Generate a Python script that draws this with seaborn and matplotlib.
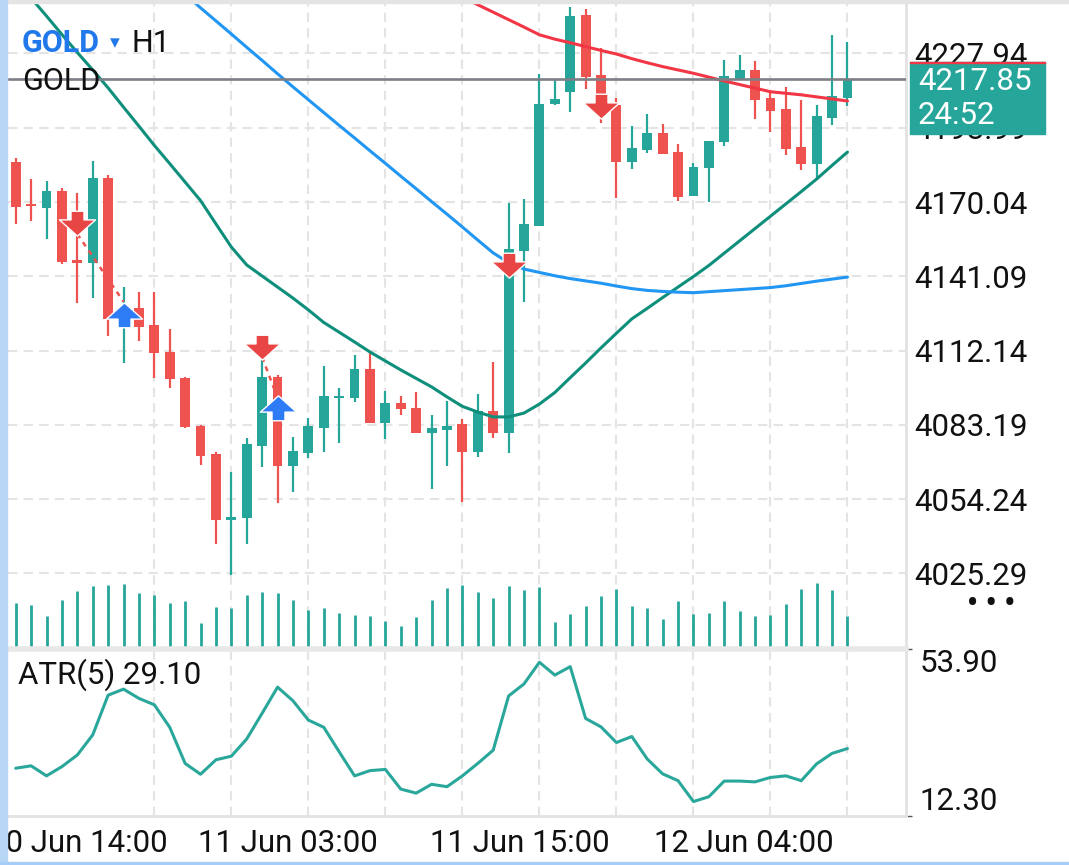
import numpy as np
import pandas as pd
import seaborn as sns
import matplotlib.pyplot as plt
from matplotlib.path import Path
from matplotlib.patches import Rectangle

# GOLD H1 candles
opens = [4185.5, 4169.1, 4167.8, 4174.3, 4147.4, 4146.4, 4179.5, 4124.5, 4128.6, 4122.1,
         4111.6, 4101.6, 4082.9, 4071.9, 4046.1, 4047.0, 4075.1, 4101.7, 4067.3, 4072.4,
         4082.1, 4093.5, 4093.8, 4104.9, 4084.1, 4091.9, 4089.7, 4079.9, 4081.3, 4083.4,
         4072.8, 4088.6, 4079.9, 4151.1, 4160.8, 4208.2, 4213.0, 4242.9, 4219.5, 4207.8,
         4185.7, 4190.3, 4197.0, 4189.5, 4172.4, 4183.2, 4193.5, 4217.8, 4221.5, 4210.6,
         4206.3, 4191.4, 4184.8, 4202.7, 4210.7]
highs = [4187.1, 4178.9, 4178.1, 4175.6, 4173.7, 4186.0, 4180.6, 4137.0, 4134.9, 4134.9,
         4120.6, 4101.9, 4083.2, 4072.8, 4065.0, 4078.0, 4108.5, 4102.6, 4078.4, 4085.8,
         4106.1, 4097.5, 4110.4, 4111.7, 4096.4, 4094.5, 4095.9, 4086.9, 4092.4, 4085.4,
         4095.2, 4107.7, 4169.5, 4171.1, 4219.9, 4217.6, 4245.9, 4245.1, 4229.9, 4210.4,
         4199.7, 4204.3, 4200.4, 4192.6, 4185.1, 4193.8, 4225.4, 4227.3, 4225.0, 4213.7,
         4214.7, 4209.8, 4207.8, 4235.1, 4232.3]
lows = [4161.4, 4162.8, 4155.5, 4145.8, 4130.8, 4132.8, 4118.0, 4107.2, 4116.0, 4101.4,
        4097.5, 4082.0, 4067.5, 4036.7, 4024.7, 4036.7, 4066.7, 4052.9, 4057.2, 4070.4,
        4072.8, 4076.3, 4092.0, 4084.1, 4077.6, 4086.9, 4079.9, 4058.1, 4067.3, 4053.3,
        4070.6, 4078.2, 4072.1, 4131.2, 4160.7, 4208.0, 4205.2, 4214.0, 4200.7, 4171.5,
        4182.8, 4189.3, 4188.7, 4170.4, 4172.4, 4170.2, 4191.9, 4217.8, 4202.4, 4197.4,
        4188.4, 4182.5, 4178.6, 4200.0, 4207.4]
closes = [4168.2, 4168.3, 4174.3, 4146.7, 4146.2, 4179.3, 4124.3, 4128.7, 4121.5, 4111.1,
          4101.0, 4082.3, 4071.1, 4046.1, 4047.3, 4075.8, 4101.7, 4067.3, 4073.0, 4082.8,
          4094.5, 4094.5, 4104.9, 4084.1, 4091.6, 4089.3, 4079.9, 4081.9, 4082.9, 4072.8,
          4088.7, 4079.9, 4151.6, 4161.5, 4208.2, 4210.2, 4242.5, 4218.9, 4212.1, 4185.7,
          4191.2, 4197.0, 4188.7, 4172.1, 4183.8, 4193.8, 4219.1, 4221.5, 4209.8, 4205.6,
          4190.7, 4184.8, 4203.6, 4211.3, 4217.85]
# tick volume, hundreds
volume = [44, 42, 31, 47, 56, 61, 62, 63, 54, 52, 44, 46, 24, 40, 39, 52, 55, 54, 47,
          37, 39, 34, 32, 31, 26, 21, 30, 47, 59, 62, 55, 49, 61, 57,
          60, 25, 33, 41, 51, 58, 41, 39, 28, 46, 33, 34, 46, 36, 31, 32, 43, 58, 64, 57, 31]
atr = [24.2, 24.8, 22.3, 24.6, 27.5, 32.5, 42.4, 43.9, 41.6, 40.0, 34.4, 25.4, 22.7, 26.3,
       27.2, 31.5, 37.9, 44.4, 41.0, 36.2, 34.4, 28.3, 22.3, 23.6, 23.9, 19.0, 18.0, 20.2,
       19.6, 22.3, 25.4, 28.7, 42.2, 45.2, 50.6, 47.4, 49.5, 36.6, 34.5, 30.6, 32.1, 26.5,
       22.8, 21.1, 15.9, 17.1, 21.0, 21.0, 20.8, 21.9, 22.3, 21.1, 25.3, 27.9, 29.1]
ma_fast = [4256.1, 4249.5, 4242.5, 4235.3, 4228.3, 4221.5, 4214.5, 4207.0, 4199.6, 4192.1,
           4185.0, 4177.8, 4170.6, 4161.5, 4152.5, 4145.5, 4141.2, 4136.9, 4132.6, 4128.0,
           4123.1, 4119.3, 4115.5, 4111.6, 4108.1, 4104.6, 4101.3, 4098.0, 4094.1, 4090.4,
           4088.2, 4086.3, 4086.3, 4087.8, 4091.3, 4095.8, 4101.6, 4107.3, 4113.2, 4118.9,
           4124.5, 4128.6, 4132.8, 4136.9, 4141.0, 4145.3, 4150.1, 4154.9, 4159.7, 4164.5,
           4169.3, 4174.1, 4179.0, 4184.3, 4189.5]
ma_mid = [np.nan] * 11 + [
    4250.9, 4245.7, 4240.6, 4235.5, 4230.3, 4225.2, 4220.0, 4214.9, 4209.9,
    4204.9, 4199.9, 4195.0, 4190.0, 4185.1, 4180.1, 4175.2, 4170.2, 4165.3, 4160.3,
    4155.2, 4150.2, 4146.4, 4143.9, 4142.6, 4141.3, 4140.2, 4139.3, 4138.4, 4137.3,
    4136.3, 4135.6, 4135.2, 4134.9, 4134.7, 4135.1, 4135.5, 4135.9, 4136.3, 4136.7,
    4137.4, 4138.3, 4139.2, 4140.0, 4140.8]
ma_slow = [np.nan] * 29 + [
    4249.9, 4246.9, 4244.0, 4241.1, 4238.2, 4235.2, 4233.5, 4232.1, 4230.6, 4229.1,
    4227.7, 4225.9, 4224.3, 4222.8, 4221.5, 4220.2, 4218.7, 4217.2, 4215.8, 4214.4,
    4213.0, 4212.4, 4211.8, 4211.0, 4210.2, 4209.4]

# trade markers
sell_idx = [4, 16, 32, 38]
sell_price = [4161.9, 4113.5, 4145.5, 4207.4]
buy_idx = [7, 17]
buy_price = [4126.0, 4089.8]
trade_lines = [([4, 7], [4157.6, 4131.2]), ([16, 17], [4109.6, 4093.7])]

current_price = 4217.85
price_ticks = [4025.29, 4054.24, 4083.19, 4112.14, 4141.09, 4170.04, 4198.99, 4227.94]
atr_ticks = [12.30, 53.90]
time_pos = [4, 17.7, 32.7, 47.3]
time_labels = ['10 Jun 14:00', '11 Jun 03:00', '11 Jun 15:00', '12 Jun 04:00']

df = pd.DataFrame({'open': opens, 'high': highs, 'low': lows, 'close': closes,
                   'volume': volume, 'atr': atr, 'ma_fast': ma_fast,
                   'ma_mid': ma_mid, 'ma_slow': ma_slow})
df['idx'] = np.arange(len(df))

GREEN = '#26a69a'
RED = '#ef5350'
GRID = '#e4e4e4'
FS = 22.5

sns.set_theme(style='white')
plt.rcParams['font.family'] = ['Roboto', 'DejaVu Sans']
plt.rcParams['text.color'] = '#111111'

W, H = 1069, 865
fig = plt.figure(figsize=(W / 100, H / 100), dpi=100)
fig.patch.set_facecolor('white')


def fx(px):
    return px / W


def fy(py):
    return 1 - py / H


ax = fig.add_axes([fx(8), fy(647), fx(906) - fx(8), fy(3) - fy(647)])
axv = fig.add_axes(ax.get_position(), sharex=ax)
ax_atr = fig.add_axes([fx(8), fy(816), fx(906) - fx(8), fy(649) - fy(816)], sharex=ax)

ax.set_xlim(-0.5, 57.8)
ax.set_ylim(3996.65, 4247.58)

# grid
grid_pos = np.arange(4, 55, 5)
for a in (ax, ax_atr):
    a.set_xticks(grid_pos, minor=True)
    a.grid(which='minor', axis='x', color=GRID, lw=1.5, ls=(0, (4.5, 3)))
ax.set_yticks(price_ticks)
ax.grid(which='major', axis='y', color=GRID, lw=1.5, ls=(0, (4.5, 3)))
ax.grid(which='major', axis='x', visible=False)

# candles
bull = df['close'] >= df['open']
colors = np.where(bull, GREEN, RED)
body_lo = np.minimum(df['open'], df['close'])
body_h = np.maximum((df['close'] - df['open']).abs(), 0.9)
ax.vlines(df['idx'], df['low'], df['high'], colors=colors, lw=1.6, zorder=3)
ax.bar(df['idx'], body_h, bottom=body_lo, width=0.64, color=colors, lw=0, zorder=4)

# moving averages
sns.lineplot(data=df, x='idx', y='ma_fast', ax=ax, color='#0e8f7c', lw=2.2, legend=False, zorder=5)
sns.lineplot(data=df, x='idx', y='ma_mid', ax=ax, color='#2196f3', lw=2.2, legend=False, zorder=5)
sns.lineplot(data=df, x='idx', y='ma_slow', ax=ax, color='#f23645', lw=2.2, legend=False, zorder=5)

ax.axhline(current_price, color='#7d7f86', lw=1.9, zorder=6)

# trades
for xs, ys in trade_lines:
    ax.plot(xs, ys, color=RED, lw=1.8, ls=(0, (2, 2)), zorder=6)
down = Path([(-0.36, 0.68), (0.36, 0.68), (0.36, 0.2), (1, 0.2), (0, -0.7),
             (-1, 0.2), (-0.36, 0.2), (-0.36, 0.68)], closed=True)
up = Path([(-0.36, -0.68), (0.36, -0.68), (0.36, -0.2), (1, -0.2), (0, 0.7),
           (-1, -0.2), (-0.36, -0.2), (-0.36, -0.68)], closed=True)
ax.scatter(sell_idx, sell_price, marker=down, s=26 ** 2, color='#e84545',
           edgecolors='white', linewidths=1, zorder=7)
ax.scatter(buy_idx, buy_price, marker=up, s=26 ** 2, color='#2d7cf6',
           edgecolors='white', linewidths=1, zorder=7)

ax.set_xlabel('')
ax.set_ylabel('')
ax.yaxis.tick_right()
ax.tick_params(axis='y', length=0, pad=6, labelsize=FS, labelcolor='#111111')
ax.set_yticklabels([f'{t:.2f}' for t in price_ticks])
ax.tick_params(axis='x', which='both', length=0, labelbottom=False)
for s in ('left', 'top', 'bottom'):
    ax.spines[s].set_visible(False)
ax.spines['right'].set_color('#e2e2e2')
ax.spines['right'].set_linewidth(2)

# volume
axv.set_ylim(0, 644)
axv.vlines(df['idx'], 0, df['volume'], colors=GREEN, lw=2.0)
axv.axis('off')
axv.patch.set_alpha(0)

# ATR panel
sns.lineplot(data=df, x='idx', y='atr', ax=ax_atr, color='#2aa79b', lw=2.2, legend=False)
ax_atr.set_ylim(12.30, 53.90)
ax_atr.set_xlabel('')
ax_atr.set_ylabel('')
ax_atr.yaxis.tick_right()
ax_atr.set_yticks(atr_ticks)
ax_atr.set_yticklabels([f'{t:.2f}' for t in atr_ticks])
ax_atr.tick_params(axis='y', length=4, width=1, color='#555555', pad=6,
                   labelsize=FS, labelcolor='#111111')
lbl = ax_atr.get_yticklabels()
lbl[0].set_va('bottom')
lbl[1].set_va('top')
ax_atr.set_xticks(time_pos)
ax_atr.set_xticklabels(time_labels)
ax_atr.tick_params(axis='x', which='major', length=5, width=1, color='#d8d8d8',
                   pad=4, labelsize=FS, labelcolor='#111111')
ax_atr.tick_params(axis='x', which='minor', length=0)
ax_atr.grid(which='major', visible=False)
ax_atr.spines['left'].set_visible(False)
ax_atr.spines['top'].set_color('#e8e8e8')
ax_atr.spines['top'].set_linewidth(4)
ax_atr.spines['bottom'].set_color('#e2e2e2')
ax_atr.spines['bottom'].set_linewidth(2)
ax_atr.spines['right'].set_color('#e2e2e2')
ax_atr.spines['right'].set_linewidth(2)

# labels on top of the panels
fig.text(fx(22), fy(43), 'GOLD', color='#2178eb', fontsize=22, fontweight='bold', va='center')
fig.text(fx(110), fy(43), '▾', color='#2178eb', fontsize=14, va='center')
fig.text(fx(131), fy(43), 'H1', color='#111111', fontsize=22, va='center')
fig.text(fx(22), fy(82), 'GOLD', color='#111111', fontsize=22, va='center')
fig.text(fx(18), fy(675), 'ATR(5) 29.10', color='#111111', fontsize=FS, va='center')

# current price box
fig.add_artist(Rectangle((fx(910), fy(134)), fx(1045) - fx(910), fy(62) - fy(134),
                         transform=fig.transFigure, color=GREEN, zorder=10))
fig.add_artist(Rectangle((fx(910), fy(63)), fx(1045) - fx(910), 1.2 / H,
                         transform=fig.transFigure, color='#f23645', zorder=11))
fig.text(fx(918), fy(82), f'{current_price:.2f}', color='white', fontsize=FS, va='center', zorder=12)
fig.text(fx(918), fy(115), '24:52', color='white', fontsize=FS, va='center', zorder=12)
fig.text(fx(991), fy(604), '• • •', color='#111111', fontsize=22, fontweight='bold',
         ha='center', va='center')

# screen edges
fig.add_artist(Rectangle((0, fy(3)), 1, 3 / H, transform=fig.transFigure, color='#e4e4e4', zorder=9))
fig.add_artist(Rectangle((0, 0), 7 / W, 1, transform=fig.transFigure, color='#b8d7f7', zorder=9))
fig.add_artist(Rectangle((0, 0), 1, 3 / H, transform=fig.transFigure, color='#a6cdf5', zorder=9))

fig.savefig('out.png', dpi=100)
